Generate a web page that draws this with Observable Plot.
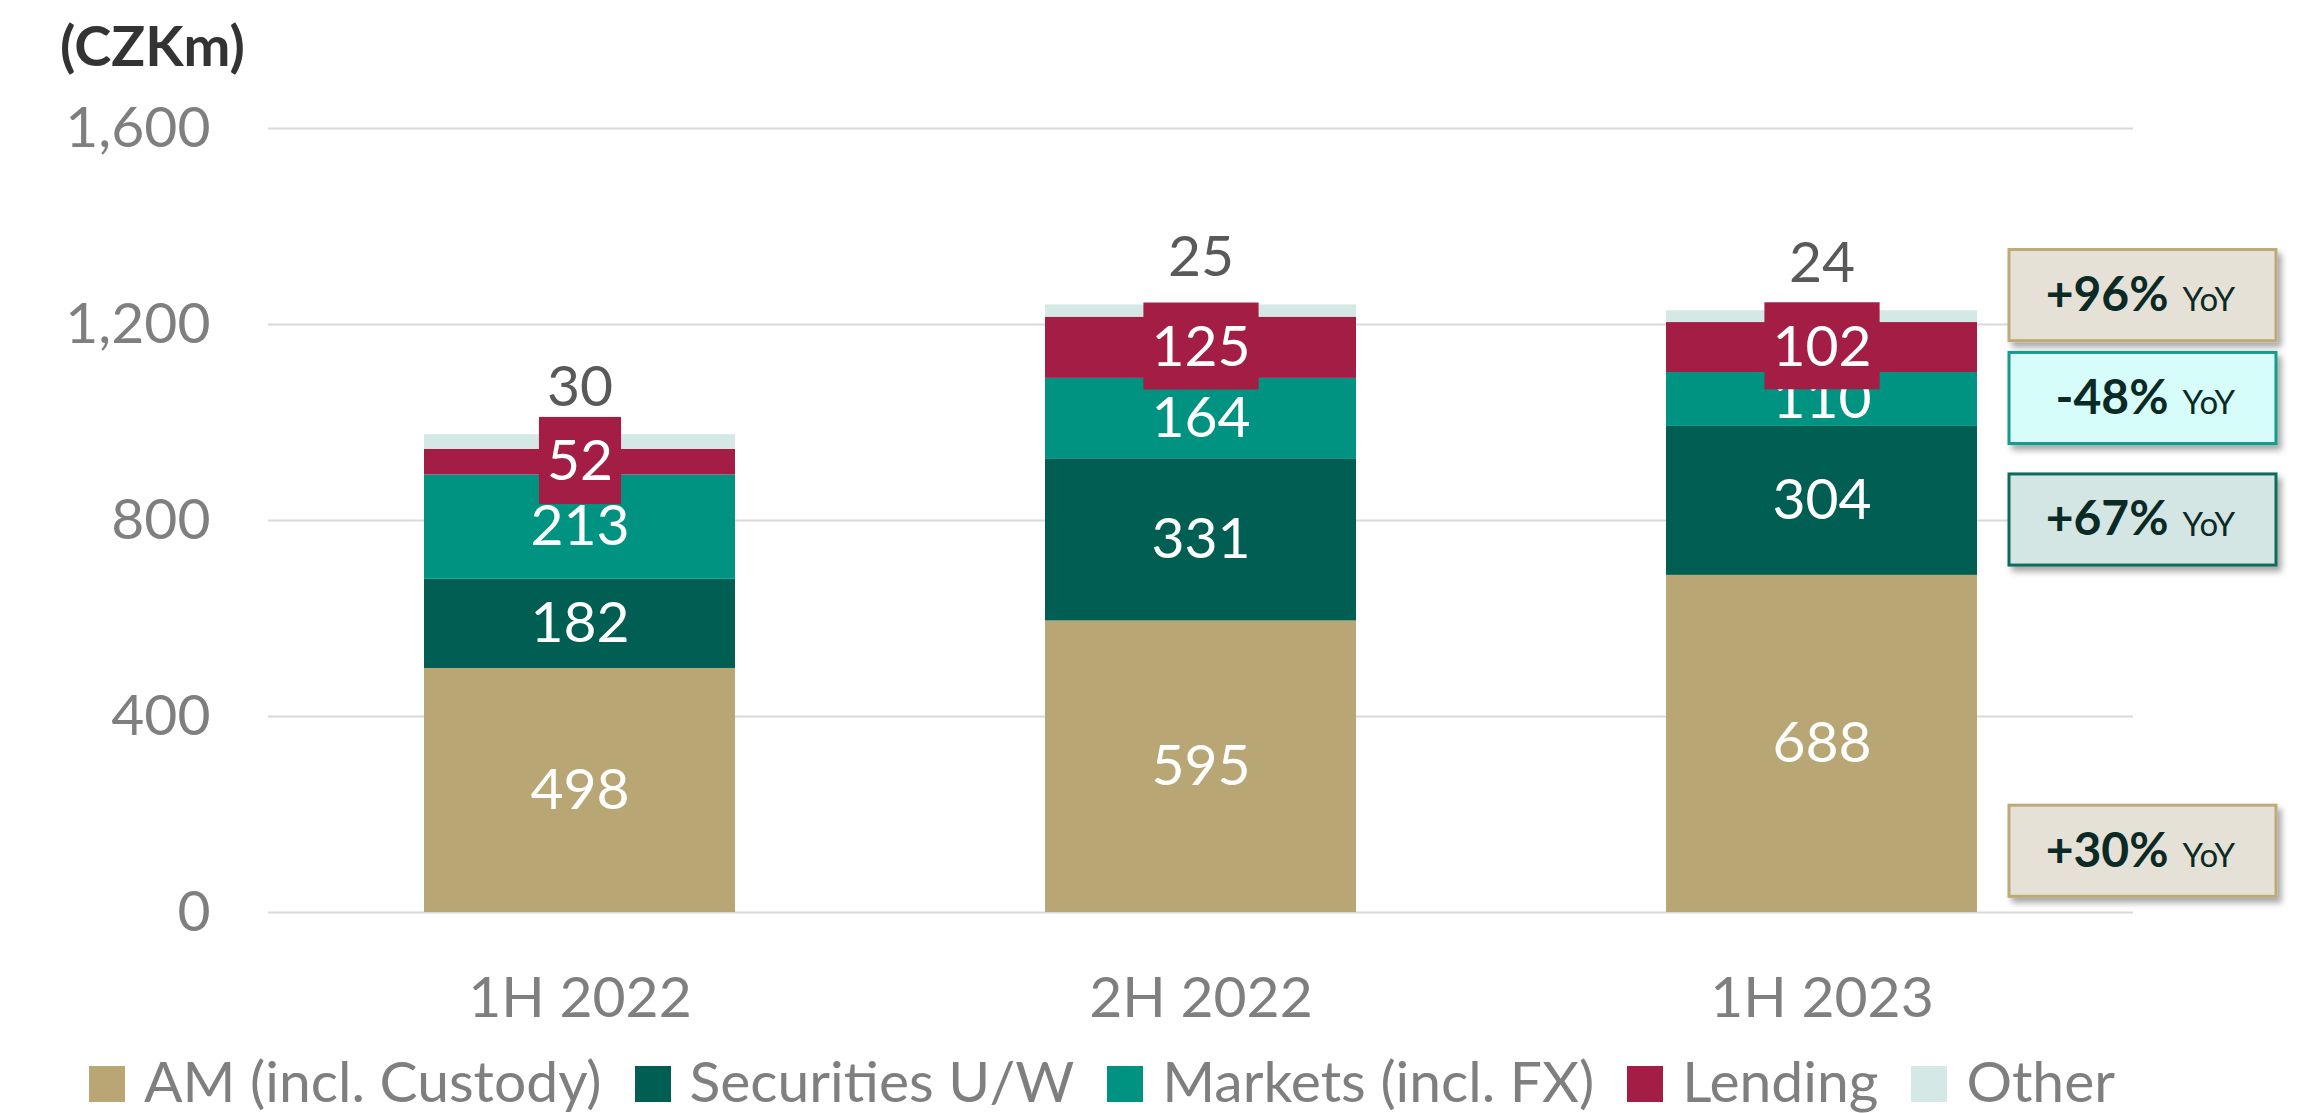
<!DOCTYPE html>
<html>
<head>
<meta charset="utf-8">
<script src="https://cdn.jsdelivr.net/npm/d3@7"></script>
<script src="https://cdn.jsdelivr.net/npm/@observablehq/plot@0.6"></script>
<style>
  html, body { margin: 0; padding: 0; background: #ffffff; }
  #wrap { position: relative; width: 2299px; height: 1113px; overflow: hidden; font-family: Lato, "Open Sans", sans-serif; }
  #title { position: absolute; left: 60px; top: 17px; font-size: 56px; font-weight: 700; color: #333333; line-height: 1; }
  #chart { position: absolute; left: 0; top: 100px; }
  #legend { position: absolute; left: 89px; top: 1052px; display: flex; align-items: baseline; gap: 33px;
            font-size: 57px; line-height: 1; color: #7f7f7f; white-space: nowrap; }
  .item { display: flex; align-items: baseline; gap: 19px; }
  .sw { display: inline-block; width: 36px; height: 36px; }
</style>
</head>
<body>
<div id="wrap">
  <div id="title">(CZKm)</div>
  <div id="chart"></div>
  <div id="legend"></div>
</div>
<script>
// ---------------- data ----------------
const periods = ["1H 2022", "2H 2022", "1H 2023"];
const segments = ["AM (incl. Custody)", "Securities U/W", "Markets (incl. FX)", "Lending", "Other"];
const am = [498, 595, 688];
const securities = [182, 331, 304];
const markets = [213, 164, 110];
const lending = [52, 125, 102];
const other = [30, 25, 24];
const yTicks = [0, 400, 800, 1200, 1600];
const yoyLabels = ["+96%", "-48%", "+67%", "+30%"];
const yoySegments = ["Lending", "Markets (incl. FX)", "Securities U/W", "AM (incl. Custody)"];

// ---------------- styles ----------------
const segmentColors = ["#b8a774", "#005f52", "#009381", "#a31d45", "#d4e8e6"];
const yoyFills = {
  "Lending": "#e6e1d6",
  "Markets (incl. FX)": "#d6fdf9",
  "Securities U/W": "#d4e6e3",
  "AM (incl. Custody)": "#e6e1d6"
};
const yoyStrokes = {
  "Lending": "#bcab78",
  "Markets (incl. FX)": "#129a8b",
  "Securities U/W": "#0f6a5c",
  "AM (incl. Custody)": "#bcab78"
};
// annotation layout (vertical centres of the YoY boxes, in chart units)
const yoyCenters = [1259, 1049, 801, 125];
const yoyHalf = 93;

const series = [am, securities, markets, lending, other];
const rows = periods.flatMap((p, i) => segments.map((s, j) => ({period: p, segment: s, value: series[j][i]})));
const yoy = yoySegments.map((s, i) => ({segment: s, label: yoyLabels[i], center: yoyCenters[i]}));

const W = 2299, H = 940, mL = 268, mR = 166, mT = 28, mB = 128;
const frameRight = W - mR;
const boxLeft = frameRight - 124, boxRight = frameRight + 143;
const insetLeft = boxLeft - mL, insetRight = frameRight - boxRight;

const whiteSegs = ["AM (incl. Custody)", "Securities U/W", "Markets (incl. FX)"];

const svg = Plot.plot({
  width: W, height: H,
  marginTop: mT, marginBottom: mB, marginLeft: mL, marginRight: mR,
  style: {fontFamily: "Lato, 'Open Sans', sans-serif", fontSize: "57px", color: "#7f7f7f", background: "transparent", overflow: "visible"},
  x: {domain: periods, paddingInner: 0.5, paddingOuter: 0.25, label: null, tickSize: 0, tickPadding: 64},
  y: {domain: [0, 1600], ticks: yTicks, tickFormat: d3.format(","), label: null, tickSize: 0, tickPadding: 58},
  color: {domain: segments, range: segmentColors},
  marks: [
    Plot.ruleY(yTicks, {stroke: "#d9d9d9", strokeWidth: 2}),
    Plot.barY(rows, {x: "period", y: "value", fill: "segment"}),
    Plot.text(rows, Plot.stackY({x: "period", y: "value", z: "segment",
      text: d => whiteSegs.includes(d.segment) ? String(d.value) : null,
      fill: "white", fontSize: 57})),
    Plot.text(rows, Plot.stackY({x: "period", y: "value", z: "segment",
      text: d => d.segment === "Lending" ? String(d.value) : null,
      fill: "white", fontSize: 57, ariaDescription: "lending-label"})),
    Plot.text(rows, Plot.stackY2({x: "period", y: "value", z: "segment",
      text: d => d.segment === "Other" ? String(d.value) : null,
      fill: "#595959", fontSize: 57, dy: -47})),
    ...yoy.map(d => Plot.rect([d], {
      y1: e => e.center - yoyHalf, y2: e => e.center + yoyHalf,
      insetLeft, insetRight,
      fill: yoyFills[d.segment], stroke: yoyStrokes[d.segment], strokeWidth: 3,
      ariaDescription: "yoy-box"})),
    Plot.text(yoy, {y: "center", text: "label", frameAnchor: "right", textAnchor: "end", dx: 35,
      fontWeight: 700, fontSize: 48, fill: "#0c2a25"}),
    Plot.text(yoy, {y: "center", text: () => "YoY", frameAnchor: "right", textAnchor: "start", dx: 49, dy: 5,
      fontSize: 33, fill: "#0c2a25"})
  ]
});
document.getElementById("chart").appendChild(svg);

// shadow for the YoY boxes
const ns = "http://www.w3.org/2000/svg";
const defs = document.createElementNS(ns, "defs");
defs.innerHTML = '<filter id="yoyShadow" x="-10%" y="-20%" width="130%" height="160%">' +
  '<feDropShadow dx="4" dy="5" stdDeviation="3" flood-color="#000" flood-opacity="0.35"/></filter>';
svg.insertBefore(defs, svg.firstChild);
svg.querySelectorAll('g[aria-description="yoy-box"]').forEach(g => g.setAttribute("filter", "url(#yoyShadow)"));

// filled boxes behind the Lending labels
const lg = svg.querySelector('g[aria-description="lending-label"]');
if (lg) {
  lg.querySelectorAll("text").forEach(t => {
    const bb = t.getBBox();
    const r = document.createElementNS(ns, "rect");
    const cy = bb.y + bb.height / 2 + 2;
    r.setAttribute("x", bb.x - 8);
    r.setAttribute("width", bb.width + 16);
    r.setAttribute("y", cy - 43.5);
    r.setAttribute("height", 87);
    r.setAttribute("fill", segmentColors[segments.indexOf("Lending")]);
    const tr = t.getAttribute("transform");
    if (tr) r.setAttribute("transform", tr);
    lg.insertBefore(r, t);
  });
}

// legend
const legend = document.getElementById("legend");
segments.forEach((s, i) => {
  const item = document.createElement("div");
  item.className = "item";
  const sw = document.createElement("span");
  sw.className = "sw";
  sw.style.background = segmentColors[i];
  const label = document.createElement("span");
  label.textContent = s;
  item.appendChild(sw);
  item.appendChild(label);
  legend.appendChild(item);
});
</script>
</body>
</html>
